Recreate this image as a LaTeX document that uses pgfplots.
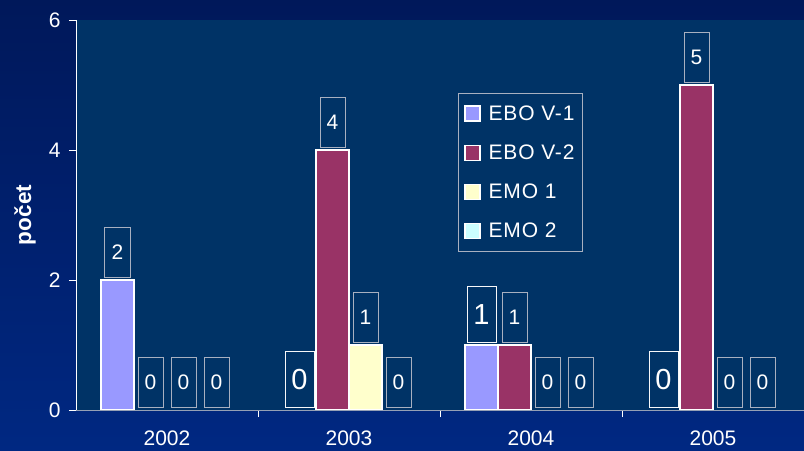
\documentclass[border=0pt]{standalone}
\usepackage{pgfplots}
\pgfplotsset{compat=1.18}
\usepackage{fontspec}
\setmainfont{Liberation Sans}
\definecolor{plotbg}{HTML}{003366}
\definecolor{bgtop}{HTML}{00185A}
\definecolor{bgbot}{HTML}{002882}
\definecolor{ebo1}{HTML}{9999FF}
\definecolor{ebo2}{HTML}{993366}
\definecolor{emo1}{HTML}{FFFFCC}
\definecolor{emo2}{HTML}{CCFFFF}
\definecolor{boxgray}{HTML}{A8B0C0}
\definecolor{axisgray}{HTML}{95A0B5}
\begin{document}
\begin{tikzpicture}
\shade[top color=bgtop, bottom color=bgbot] (0,0) rectangle (804bp,451bp);
\begin{axis}[
  at={(76bp,41bp)}, anchor=south west,
  scale only axis, width=728bp, height=390bp,
  xmin=-0.5, xmax=3.5, ymin=0, ymax=6,
  axis background/.style={fill=plotbg},
  axis lines*=left,
  x axis line style={draw=axisgray, line width=1bp},
  y axis line style={draw=white, line width=1bp},
  tick align=outside,
  major tick length=7bp,
  ytick={0,2,4,6},
  y tick style={draw=white, line width=0.8bp},
  xtick={0.5,1.5,2.5}, xticklabels={},
  x tick style={draw=white, line width=0.8bp},
  extra x ticks={0,1,2,3},
  extra x tick labels={2002,2003,2004,2005},
  extra x tick style={major tick length=0pt, tick style={draw=none}},
  /pgf/number format/assume math mode=true,
  ticklabel style={font=\fontsize{21bp}{24bp}\selectfont, text=white},
  xticklabel style={yshift=-17bp},
  yticklabel style={xshift=-5bp},
  ylabel={\bfseries počet},
  ylabel style={font=\fontsize{22.5bp}{26bp}\selectfont, text=white, at={(axis description cs:-0.070,0.5)}, anchor=center},
  legend image code/.code={\draw[#1] (0bp,-7.5bp) rectangle (15bp,7.5bp); \path (21bp,0bp);},
  legend style={at={(0.5247,0.8128)}, anchor=north west, fill=plotbg, draw=boxgray, line width=0.8bp, text=white,
    font=\fontsize{21bp}{24bp}\selectfont\addfontfeature{LetterSpace=4}, row sep=19bp, inner xsep=6bp, inner ysep=10bp},
  legend cell align=left,
  every node near coord/.append style={draw=boxgray, fill=plotbg, text=white, line width=1bp,
    font=\fontsize{21bp}{24bp}\selectfont, minimum width=25bp, minimum height=50bp, inner sep=0pt,
    anchor=south, yshift=2bp},
]
\addlegendimage{fill=ebo1, draw=white, line width=1.2bp}
\addlegendentry{EBO V-1}
\addlegendimage{fill=ebo2, draw=white, line width=1.2bp}
\addlegendentry{EBO V-2}
\addlegendimage{fill=emo1, draw=white, line width=1.2bp}
\addlegendentry{EMO 1}
\addlegendimage{fill=emo2, draw=white, line width=1.2bp}
\addlegendentry{EMO 2}
% bars (non-zero values)
\addplot[ybar, bar width=33bp, bar shift=-49.5bp, fill=ebo1, draw=white, line width=1.5bp, forget plot]
  coordinates {(0,2) (2,1)};
\addplot[ybar, bar width=33bp, bar shift=-16.5bp, fill=ebo2, draw=white, line width=1.5bp, forget plot]
  coordinates {(1,4) (2,1) (3,5)};
\addplot[ybar, bar width=33bp, bar shift=16.5bp, fill=emo1, draw=white, line width=1.5bp, forget plot]
  coordinates {(1,1)};
% value labels
\addplot[ybar, bar width=33bp, draw=none, fill=none, forget plot, nodes near coords,
  every node near coord/.append style={xshift=-49.5bp}]
  coordinates {(0,2)};
\addplot[ybar, bar width=33bp, draw=none, fill=none, forget plot, nodes near coords,
  every node near coord/.append style={xshift=-49.5bp, draw=white!90!boxgray, font=\fontsize{29bp}{32bp}\selectfont, minimum width=29bp, minimum height=56bp}]
  coordinates {(1,0) (2,1) (3,0)};
\addplot[ybar, bar width=33bp, draw=none, fill=none, forget plot, nodes near coords,
  every node near coord/.append style={xshift=-16.5bp}]
  coordinates {(0,0) (1,4) (2,1) (3,5)};
\addplot[ybar, bar width=33bp, draw=none, fill=none, forget plot, nodes near coords,
  every node near coord/.append style={xshift=16.5bp}]
  coordinates {(0,0) (1,1) (2,0) (3,0)};
\addplot[ybar, bar width=33bp, draw=none, fill=none, forget plot, nodes near coords,
  every node near coord/.append style={xshift=49.5bp}]
  coordinates {(0,0) (1,0) (2,0) (3,0)};
\end{axis}
\pgfresetboundingbox
\path[use as bounding box] (0,0) rectangle (804bp,451bp);
\end{tikzpicture}
\end{document}
